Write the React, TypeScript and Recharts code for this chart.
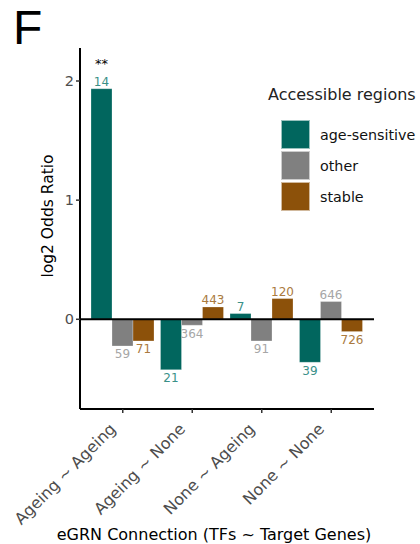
import React from "react";
import { BarChart, Bar, XAxis, YAxis, ReferenceLine, LabelList, Legend } from "recharts";

const categories = ["Ageing ~ Ageing", "Ageing ~ None", "None ~ Ageing", "None ~ None"];
const ageSensitive = [1.935, -0.423, 0.048, -0.361];
const other = [-0.224, -0.05, -0.182, 0.149];
const stable = [-0.182, 0.103, 0.174, -0.103];
const ageCounts = [14, 21, 7, 39];
const otherCounts = [59, 364, 91, 646];
const stableCounts = [71, 443, 120, 726];
const significance = ["**", "", "", ""];
const yTicks = [0, 1, 2];

const seriesNames = ["age-sensitive", "other", "stable"];
const fills = ["#01665E", "#808080", "#8C510A"];
const labelColors = ["#3a9088", "#a6a6a6", "#aa7a40"];

const data = categories.map((c, i) => ({
  cat: c,
  age: ageSensitive[i],
  other: other[i],
  stable: stable[i],
  ageN: ageCounts[i],
  otherN: otherCounts[i],
  stableN: stableCounts[i],
  sig: significance[i],
}));

const FONT = "'DejaVu Sans', sans-serif";

const makeCountLabel = (color: string, values: number[]) => (props: any) => {
  const { x, y, width, height, value, index } = props;
  const v = values[index];
  const cx = x + width / 2;
  const top = Math.min(y, y + height);
  const bottom = Math.max(y, y + height);
  const ty = v >= 0 ? top - 3 : bottom + 12.5;
  return (
    <text x={cx} y={ty} textAnchor="middle" fill={color} fontSize={12} fontFamily={FONT}>
      {value}
    </text>
  );
};

const SigLabel = (props: any) => {
  const { x, y, width, value } = props;
  if (!value) return null;
  return (
    <text x={x + width / 2} y={y - 21} textAnchor="middle" fill="#000" fontSize={13} fontFamily={FONT}>
      {value}
    </text>
  );
};

const XTick = (props: any) => {
  const { x, y, payload } = props;
  const ax = x - 6;
  const ay = y + 15;
  return (
    <text
      x={ax}
      y={ay}
      transform={`rotate(-45 ${ax} ${ay})`}
      textAnchor="end"
      fill="#4d4d4d"
      fontSize={16}
      fontFamily={FONT}
    >
      {payload.value}
    </text>
  );
};

const LegendContent = () => (
  <div style={{ fontFamily: FONT, color: "#000" }}>
    <div style={{ fontSize: 16, lineHeight: "19px", color: "#222", marginBottom: 15, whiteSpace: "nowrap" }}>Accessible regions</div>
    {seriesNames.map((n, i) => (
      <div key={n} style={{ display: "flex", alignItems: "center", height: 31, marginLeft: 13 }}>
        <div style={{ width: 29, height: 29, background: fills[i], border: "0.5px solid rgba(255,255,255,0.6)", boxSizing: "border-box" }} />
        <span style={{ fontSize: 14.3, marginLeft: 10, color: "#111", whiteSpace: "nowrap" }}>{n}</span>
      </div>
    ))}
  </div>
);

export default function App() {
  return (
    <div style={{ position: "absolute", left: 0, top: 0, width: 420, height: 544, background: "#fff" }}>
      <div style={{ position: "absolute", left: 13, top: -4, fontSize: 48, fontFamily: "'Liberation Sans', Arial, sans-serif", color: "#000", lineHeight: "64px" }}>F</div>
      <BarChart
        width={420}
        height={544}
        data={data}
        margin={{ top: 48, right: 46, bottom: 35, left: 20 }}
        barGap={0}
        barSize={21}
      >
        <XAxis
          dataKey="cat"
          type="category"
          padding={{ left: 8, right: 8 }}
          axisLine={{ stroke: "#000", strokeWidth: 2 }}
          tickLine={{ stroke: "#333", strokeWidth: 1.5 }}
          tickSize={4}
          tick={<XTick />}
          interval={0}
          height={100}
        />
        <YAxis
          type="number"
          domain={[-0.753, 2.277]}
          ticks={yTicks}
          allowDataOverflow
          axisLine={{ stroke: "#000", strokeWidth: 2 }}
          tickLine={{ stroke: "#333", strokeWidth: 1.5 }}
          tickSize={4}
          tick={{ fill: "#4d4d4d", fontSize: 14.5, fontFamily: FONT }}
          width={60}
        />
        <ReferenceLine y={0} stroke="#000" strokeWidth={2} />
        <Legend
          layout="horizontal"
          verticalAlign="middle"
          align="center"
          content={<LegendContent />}
          wrapperStyle={{ position: "absolute", left: 268, top: 85, width: 160, height: 130 }}
        />
        <Bar dataKey="age" name={seriesNames[0]} fill={fills[0]} stroke="rgba(255,255,255,0.5)" strokeWidth={0.5} isAnimationActive={false}>
          <LabelList dataKey="ageN" content={makeCountLabel(labelColors[0], ageSensitive)} />
          <LabelList dataKey="sig" content={<SigLabel />} />
        </Bar>
        <Bar dataKey="other" name={seriesNames[1]} fill={fills[1]} stroke="rgba(255,255,255,0.5)" strokeWidth={0.5} isAnimationActive={false}>
          <LabelList dataKey="otherN" content={makeCountLabel(labelColors[1], other)} />
        </Bar>
        <Bar dataKey="stable" name={seriesNames[2]} fill={fills[2]} stroke="rgba(255,255,255,0.5)" strokeWidth={0.5} isAnimationActive={false}>
          <LabelList dataKey="stableN" content={makeCountLabel(labelColors[2], stable)} />
        </Bar>
      </BarChart>
      <div
        style={{
          position: "absolute",
          left: 0,
          width: 428,
          top: 525,
          textAlign: "center",
          fontSize: 16,
          lineHeight: "19px",
          fontFamily: FONT,
          color: "#000",
          whiteSpace: "nowrap",
        }}
      >
        eGRN Connection (TFs ~ Target Genes)
      </div>
      <div
        style={{
          position: "absolute",
          left: 48,
          top: 216,
          transform: "translate(-50%, -50%) rotate(-90deg)",
          fontSize: 15.5,
          fontFamily: FONT,
          color: "#000",
          whiteSpace: "nowrap",
        }}
      >
        log2 Odds Ratio
      </div>
    </div>
  );
}
